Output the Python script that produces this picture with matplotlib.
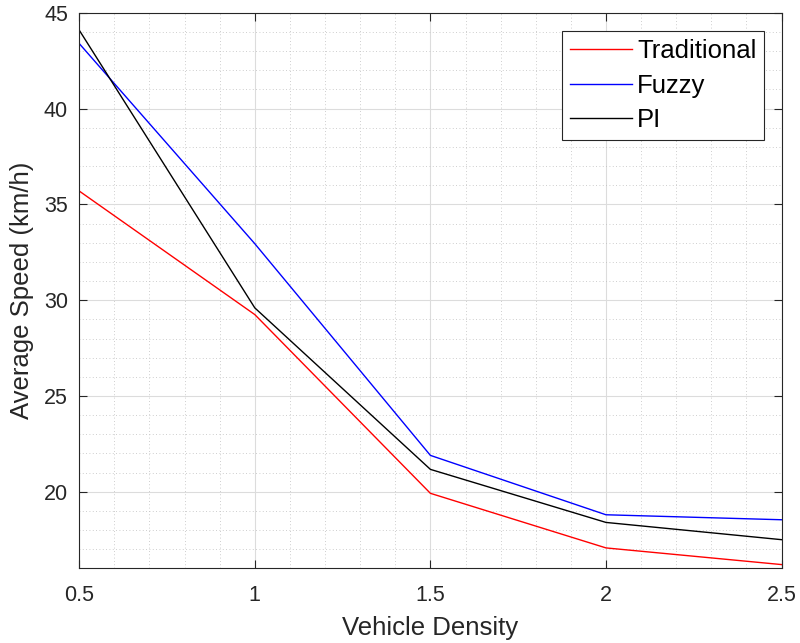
import matplotlib
matplotlib.use("Agg")
import matplotlib.pyplot as plt
from matplotlib.ticker import MultipleLocator

plt.rcParams['font.family'] = ['Liberation Sans', 'DejaVu Sans']

density = [0.5, 1.0, 1.5, 2.0, 2.5]
traditional = [35.7, 29.25, 19.92, 17.07, 16.2]
fuzzy = [43.4, 32.95, 21.9, 18.8, 18.54]
pi_ctrl = [44.1, 29.6, 21.17, 18.4, 17.5]

txt = '#262626'

fig = plt.figure(figsize=(8, 6.43), dpi=100)
ax = fig.add_axes([0.099, 0.116, 0.878, 0.864])

ax.plot(density, traditional, color='#ff0000', lw=1.0, label='Traditional')
ax.plot(density, fuzzy, color='#0000ff', lw=1.0, label='Fuzzy')
ax.plot(density, pi_ctrl, color='#000000', lw=1.0, label='PI')

ax.set_xlim(0.5, 2.5)
ax.set_ylim(16, 45)
ax.xaxis.set_major_locator(MultipleLocator(0.5))
ax.xaxis.set_minor_locator(MultipleLocator(0.1))
ax.yaxis.set_major_locator(MultipleLocator(5))
ax.yaxis.set_minor_locator(MultipleLocator(1))
ax.xaxis.set_major_formatter(plt.FuncFormatter(lambda v, p: f'{v:g}'))

ax.grid(which='major', color='#dcdcdc', lw=0.8)
ax.grid(which='minor', color='#bebebe', lw=0.6, linestyle=(0, (1, 3)))
ax.set_axisbelow(True)

ax.tick_params(which='both', direction='in', top=True, right=True, colors=txt,
               labelsize=15.5)
ax.tick_params(axis='x', pad=12)
ax.tick_params(axis='y', pad=8)
ax.tick_params(which='major', length=6, width=0.8)
ax.tick_params(which='minor', length=0)
for s in ax.spines.values():
    s.set_color(txt)
    s.set_linewidth(0.8)

ax.set_xlabel('Vehicle Density', fontsize=18.5, color=txt, labelpad=7)
ax.set_ylabel('Average Speed (km/h)', fontsize=18.5, color=txt, labelpad=7)

leg = ax.legend(loc='upper right', fontsize=18.5, fancybox=False, framealpha=1,
                edgecolor='#262626', handlelength=2.4, handletextpad=0.2,
                borderpad=0.3, labelspacing=0.42, borderaxespad=0,
                bbox_to_anchor=(0.975, 0.967))
leg.get_frame().set_linewidth(0.8)

fig.savefig('out.png', dpi=100)
